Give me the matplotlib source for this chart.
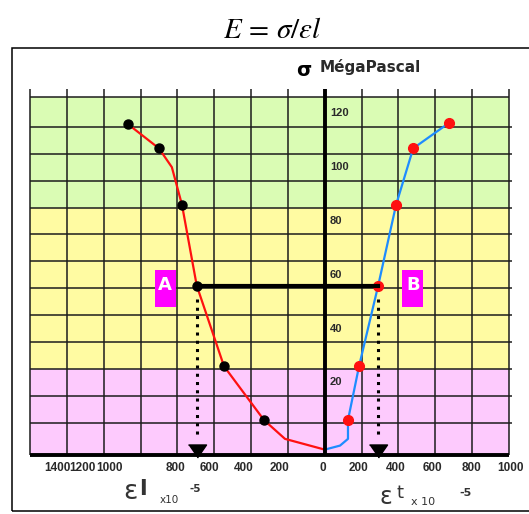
import matplotlib
matplotlib.use("Agg")
import matplotlib.pyplot as plt
from matplotlib.patches import Rectangle
from matplotlib.transforms import ScaledTranslation

plt.rcParams["mathtext.fontset"] = "stix"

# Longitudinal strain curve (x1e-5, drawn to the left) and stress in MPa
l_curve_strain = [0, 216, 330, 547, 695, 775, 830, 900, 1068]
l_curve_stress = [0, 4, 11, 31, 61, 91, 105, 112, 121]
l_pts_strain = [330, 547, 695, 775, 900, 1068]
l_pts_stress = [11, 31, 61, 91, 112, 121]

# Transverse strain curve (x1e-5, drawn to the right)
t_curve_strain = [0, 83, 126, 126, 186, 290, 387, 480, 675]
t_curve_stress = [0, 1.5, 4, 11, 31, 61, 91, 112, 121.5]
t_pts_strain = [126, 186, 290, 387, 480, 675]
t_pts_stress = [11, 31, 61, 91, 112, 121.5]

# Reading points A and B at the same stress
point_a = (695, 61)
point_b = (290, 61)

x_ticks = [-1400, -1200, -1000, -800, -600, -400, -200, 0, 200, 400, 600, 800, 1000]
x_tick_labels = ["1400", "1200", "1000", "800", "600", "400", "200", "0",
                 "200", "400", "600", "800", "1000"]
y_ticks = [20, 40, 60, 80, 100, 120]
y_tick_labels = ["20", "40", "60", "80", "100", "120"]

# Stress bands
bands = [(-2, 30, "#fdcafd"), (30, 90, "#fffba2"), (90, 131.1, "#dafcb4")]

W, H = 529, 514
fig = plt.figure(figsize=(W / 100, H / 100), dpi=100)
ax = fig.add_axes([30 / W, (H - 455) / H, (509 - 30) / W, (455 - 97) / H])
x0, x1, y0, y1 = -1600, 1000, -2, 131.1
ax.set_xlim(x0, x1)
ax.set_ylim(y0, y1)
ax.axis("off")

for lo, hi, c in bands:
    ax.axhspan(lo, hi, color=c, lw=0, zorder=0)

grid_c = "#1c1c1c"
ux = 2600 / 479.0   # data units per pixel, x
uy = 133.1 / 358.0  # data units per pixel, y
for yv in range(10, 130, 10):
    ax.hlines(yv, x0, x1 + 3 * ux, color=grid_c, lw=1.1, zorder=1, clip_on=False)
ax.hlines(y1, x0, x1, color=grid_c, lw=1.1, zorder=1, clip_on=False)
for xv in range(-1600, 1001, 200):
    if xv == 0:
        continue
    ax.vlines(xv, y0, y1 + 8 * uy, color=grid_c, lw=1.1, zorder=1, clip_on=False)

# Axes through the origin
ax.vlines(0, y0, y1 + 8 * uy, color="black", lw=2.8, zorder=2, clip_on=False)
ax.hlines(y0, x0, x1, color="black", lw=2.8, zorder=2, clip_on=False)

# Curves (each path starts where the two axes meet, hidden under the axis line)
ax.plot([0] + [-v for v in l_curve_strain], [y0] + l_curve_stress,
        color="#ff1010", lw=1.6, zorder=1.5)
ax.plot([-v for v in l_pts_strain], l_pts_stress, "o", color="black", ms=6.5, zorder=4)
ax.plot([0] + t_curve_strain, [y0] + t_curve_stress, color="#1e8cff", lw=1.6, zorder=1.5)
ax.plot(t_pts_strain, t_pts_stress, "o", color="#ff1010", ms=7, zorder=4)

# A-B line and dotted projections
ax.plot([-point_a[0], point_b[0]], [point_a[1], point_b[1]], color="black", lw=3,
        solid_capstyle="projecting", zorder=5)
tri = [(-1, 0.72), (1, 0.72), (0, -0.72)]
for xv in (-point_a[0], point_b[0]):
    ax.plot([xv, xv], [point_a[1] - 5, 4], color="black", lw=2.2,
            linestyle=(0, (1, 1.7)), zorder=5)
    ax.plot([xv], [-0.5], marker=tri, color="black", ms=13, zorder=6, clip_on=False)

# A / B tags
def tag(xd, yd, letter, dx):
    tr = ScaledTranslation(xd, yd, ax.transData)
    ax.add_patch(Rectangle((dx, -21), 21, 37, transform=tr, facecolor="#ff00ff",
                           edgecolor="none", zorder=7, clip_on=False))
    ax.annotate(letter, xy=(xd, yd), xytext=(dx + 10.5, 1), textcoords="offset pixels",
                ha="center", va="center", color="white", fontsize=13,
                fontweight="bold", zorder=8)

tag(-point_a[0], point_a[1], "A", -42)
tag(point_b[0], point_b[1], "B", 24)

# Tick labels
nudge_px = [-9, -21, -31, -2, -5, -7, -8, -2, -3, -3, -3, -1, 1]
for xv, lab, nd in zip(x_ticks, x_tick_labels, nudge_px):
    ax.annotate(lab, xy=(xv, y0), xytext=(nd, -13), textcoords="offset pixels",
                ha="center", va="center", fontsize=8.5, fontweight="bold",
                color="#2a2a2a", family="Liberation Sans", annotation_clip=False)
for yv, lab in zip(y_ticks, y_tick_labels):
    ax.text(28, yv + 5, lab, ha="left", va="center", fontsize=8, fontweight="bold",
            color="#2a2a2a", family="Liberation Sans", zorder=6)

# Figure-level texts
def ftext(px, py, s, **kw):
    fig.text(px / W, 1 - py / H, s, **kw)

ftext(272, 38, r"$E\,=\,\sigma/\varepsilon l$", ha="center", va="baseline", fontsize=21)
ftext(304, 71, "σ", ha="center", va="center", fontsize=14, fontweight="bold")
ftext(320, 67, "MégaPascal", ha="left", va="center", fontsize=11,
      fontweight="bold", color="#2a2a2a")

ftext(130, 492, "ε", ha="center", va="center", fontsize=19, color="#333333")
ftext(143, 489, "l", ha="center", va="center", fontsize=16, fontweight="bold",
      color="#333333")
ftext(169, 500, "x10", ha="center", va="center", fontsize=7.5, color="#333333")
ftext(195, 489, "-5", ha="center", va="center", fontsize=7.5, fontweight="bold",
      color="#333333")

ftext(386, 497, "ε", ha="center", va="center", fontsize=17, color="#333333")
ftext(400, 493, "t", ha="center", va="center", fontsize=13, color="#333333")
ftext(423, 502, "x 10", ha="center", va="center", fontsize=8, color="#333333")
ftext(465, 493, "-5", ha="center", va="center", fontsize=8, fontweight="bold",
      color="#333333")

# Outer frame
fig.add_artist(Rectangle((12 / W, 3 / H), 1.0, (511 - 48) / H, transform=fig.transFigure,
                         fill=False, edgecolor="black", lw=1.1, clip_on=False))

fig.savefig("out.png", dpi=100)
